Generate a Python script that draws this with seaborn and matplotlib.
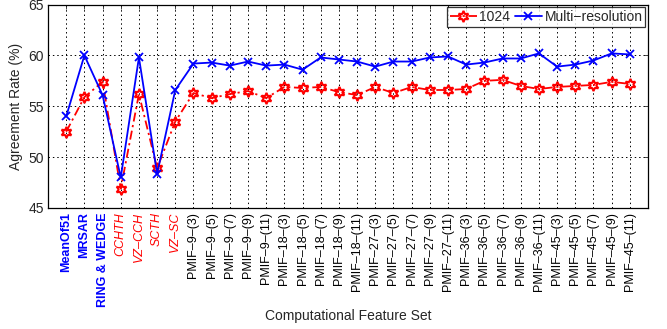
import matplotlib
matplotlib.use("Agg")
import matplotlib.pyplot as plt
import seaborn as sns
import pandas as pd

categories = ["MeanOf51", "MRSAR", "RING & WEDGE", "CCHTH", "VZ–CCH", "SCTH", "VZ–SC"]
for p in [9, 18, 27, 36, 45]:
    for s in [3, 5, 7, 9, 11]:
        categories.append(f"PMIF–{p}–({s})")

rate_1024 = [52.5, 55.9, 57.4, 46.9, 56.2, 48.9, 53.5,
             56.3, 55.8, 56.2, 56.5, 55.8,
             56.9, 56.8, 56.9, 56.4, 56.1,
             56.9, 56.3, 56.9, 56.6, 56.6,
             56.7, 57.5, 57.6, 57.0, 56.7,
             56.9, 57.0, 57.1, 57.4, 57.2]
rate_multi = [54.0, 60.0, 56.1, 48.0, 59.8, 48.35, 56.6,
              59.2, 59.3, 59.0, 59.4, 59.0,
              59.1, 58.6, 59.8, 59.6, 59.4,
              58.9, 59.4, 59.4, 59.8, 59.9,
              59.1, 59.3, 59.7, 59.7, 60.2,
              58.9, 59.1, 59.5, 60.2, 60.1]

sns.set_style("white")
plt.rcParams["font.family"] = ["Liberation Sans", "DejaVu Sans"]

df = pd.DataFrame({"feature": categories, "r1024": rate_1024, "multi": rate_multi})

fig = plt.figure(figsize=(6.67, 3.29), dpi=100)
ax = fig.add_axes([0.072, 0.368, 0.8995, 0.618])

sns.lineplot(data=df, x="feature", y="r1024", ax=ax, color="red", linestyle=(0, (5, 2, 1.2, 2)),
             linewidth=1.3, marker=(6, 1, 0), markersize=8, markerfacecolor="none",
             markeredgecolor="red", markeredgewidth=1.5, label="1024", sort=False)
sns.lineplot(data=df, x="feature", y="multi", ax=ax, color="blue", linestyle="-",
             linewidth=1.3, marker="x", markersize=6, markeredgecolor="blue",
             markeredgewidth=1.3, label="Multi−resolution", sort=False)

ax.set_xlim(-1, 32)
ax.set_ylim(45, 65)
ax.set_yticks([45, 50, 55, 60, 65])
ax.set_xticks(range(len(categories)))
ax.set_xticklabels(categories, rotation=90, fontsize=9)
for i, lab in enumerate(ax.get_xticklabels()):
    if i < 3:
        lab.set_color("blue")
        lab.set_fontweight("bold")
    elif i < 7:
        lab.set_color("red")
        lab.set_fontstyle("italic")
    else:
        lab.set_color("black")
ax.tick_params(axis="y", labelsize=10)
ax.tick_params(direction="in", top=True, right=True, length=3, width=0.6, pad=3)

ax.grid(True, color="black", linestyle=(0, (1.5, 3)), linewidth=0.7)
for sp in ax.spines.values():
    sp.set_color("black")
    sp.set_linewidth(0.9)

ax.set_xlabel("Computational Feature Set", fontsize=10, labelpad=2)
ax.set_ylabel("Agreement Rate (%)", fontsize=10, labelpad=4)

leg = ax.legend(loc="upper right", ncol=2, fontsize=10, frameon=True, fancybox=False,
                edgecolor="black", handlelength=1.9, handletextpad=0.2, columnspacing=0.35,
                borderpad=0.2, borderaxespad=0.2)
leg.get_frame().set_linewidth(0.9)

fig.savefig("out.png", dpi=100)
